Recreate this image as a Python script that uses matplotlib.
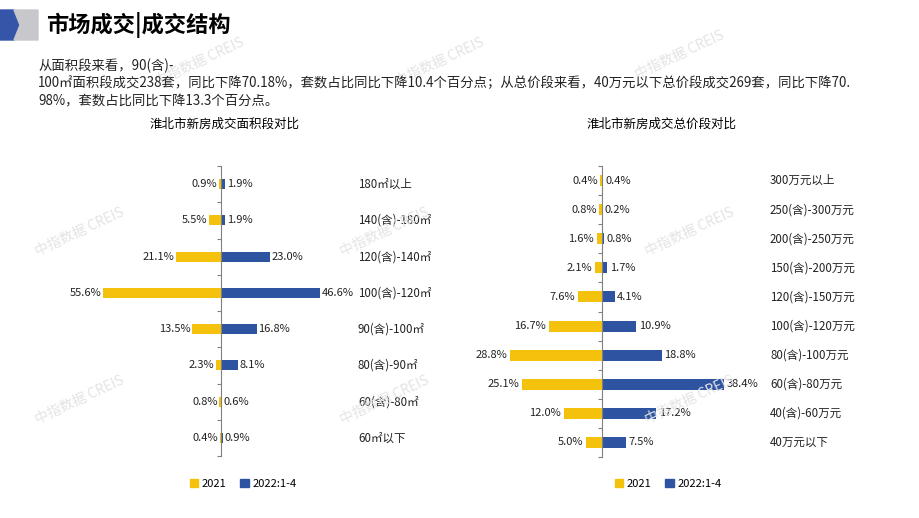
import matplotlib
matplotlib.use("Agg")
import matplotlib.pyplot as plt
from matplotlib.patches import Patch, Polygon

plt.rcParams['font.family'] = ['Noto Sans CJK SC', 'DejaVu Sans']

# 数据
area_cats = ["60㎡以下", "60(含)-80㎡", "80(含)-90㎡", "90(含)-100㎡",
             "100(含)-120㎡", "120(含)-140㎡", "140(含)-180㎡", "180㎡以上"]
area_2021 = [0.4, 0.8, 2.3, 13.5, 55.6, 21.1, 5.5, 0.9]
area_2022 = [0.9, 0.6, 8.1, 16.8, 46.6, 23.0, 1.9, 1.9]

price_cats = ["40万元以下", "40(含)-60万元", "60(含)-80万元", "80(含)-100万元",
              "100(含)-120万元", "120(含)-150万元", "150(含)-200万元",
              "200(含)-250万元", "250(含)-300万元", "300万元以上"]
price_2021 = [5.0, 12.0, 25.1, 28.8, 16.7, 7.6, 2.1, 1.6, 0.8, 0.4]
price_2022 = [7.5, 17.2, 38.4, 18.8, 10.9, 4.1, 1.7, 0.8, 0.2, 0.4]

YELLOW = '#F4C20D'
BLUE = '#2E54A1'
W, H = 920, 518

fig = plt.figure(figsize=(9.2, 5.18), dpi=100)


def px(x, y):
    return x / W, 1 - y / H


# 页眉
fig.add_artist(Polygon([px(0, 10), px(14, 10), px(20, 25), px(14, 40), px(0, 40)],
                       closed=True, transform=fig.transFigure, color='#3556A8'))
fig.add_artist(Polygon([px(14, 10), px(38, 10), px(38, 40), px(14, 40), px(20, 25)],
                       closed=True, transform=fig.transFigure, color='#C8C8CC'))
fig.text(*px(46, 25), "市场成交|成交结构", fontsize=16, fontweight='bold', va='center')

para = ["从面积段来看，90(含)-",
        "100㎡面积段成交238套，同比下降70.18%，套数占比同比下降10.4个百分点；从总价段来看，40万元以下总价段成交269套，同比下降70.",
        "98%，套数占比同比下降13.3个百分点。"]
for i, line in enumerate(para):
    fig.text(*px(38, 66 + i * 17.5), line, fontsize=9.6, va='center', color='#222222')

# 水印
for (x, y) in [(80, 232), (80, 400), (385, 232), (385, 400), (690, 232), (690, 400),
               (200, 62), (440, 62), (680, 55)]:
    fig.text(*px(x, y), "中指数据 CREIS", fontsize=10, rotation=25, color='#E4E4E4',
             ha='center', va='center', zorder=0)


def draw(ax, cats, v1, v2, label_x, bar_h):
    n = len(cats)
    ypos = list(range(n))
    ax.barh(ypos, [-v for v in v1], height=bar_h, color=YELLOW)
    ax.barh(ypos, v2, height=bar_h, color=BLUE)
    for y, a, b, c in zip(ypos, v1, v2, cats):
        ax.text(-a - 0.8, y, f"{a:.1f}%", ha='right', va='center', fontsize=8, color='#222222')
        ax.text(b + 0.8, y, f"{b:.1f}%", ha='left', va='center', fontsize=8, color='#222222')
        ax.text(label_x, y, c, ha='left', va='center', fontsize=8.3, color='#222222')
    ax.set_ylim(-0.5, n - 0.5)
    for s in ['top', 'right', 'bottom']:
        ax.spines[s].set_visible(False)
    ax.spines['left'].set_position(('data', 0))
    ax.spines['left'].set_color('#808080')
    ax.set_yticks([i - 0.5 for i in range(n + 1)])
    ax.set_yticklabels([])
    ax.tick_params(axis='y', length=3, color='#808080', direction='out')
    ax.set_xticks([])
    ax.patch.set_alpha(0)


# 面积段
ax1 = fig.add_axes([60 / W, 1 - 456 / H, 380 / W, 290 / H])
ax1.set_xlim(-75.9, 103.3)
draw(ax1, area_cats, area_2021, area_2022, 64.6, 0.28)
fig.text(*px(225, 124), "淮北市新房成交面积段对比", fontsize=9, ha='center', va='center')

# 总价段
ax2 = fig.add_axes([470 / W, 1 - 457 / H, 440 / W, 291 / H])
ax2.set_xlim(-41.4, 96.9)
draw(ax2, price_cats, price_2021, price_2022, 52.9, 0.38)
fig.text(*px(662, 124), "淮北市新房成交总价段对比", fontsize=9, ha='center', va='center')

handles = [Patch(color=YELLOW, label='2021'), Patch(color=BLUE, label='2022:1-4')]
for cx in (243, 668):
    fig.legend(handles=handles, loc='center', bbox_to_anchor=px(cx, 484), ncol=2,
               frameon=False, fontsize=8, handlelength=0.8, handleheight=0.8,
               handletextpad=0.3, columnspacing=1.2)

fig.savefig("out.png", dpi=100)
